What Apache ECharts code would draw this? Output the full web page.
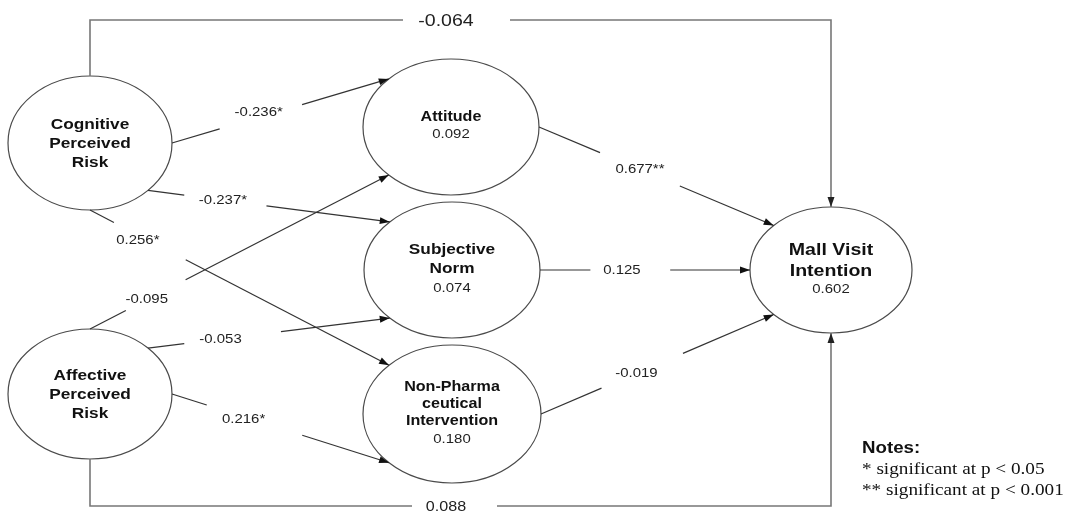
<!DOCTYPE html>
<html>
<head>
<meta charset="utf-8">
<title>Path model</title>
<script src="https://cdn.jsdelivr.net/npm/echarts@6/dist/echarts.min.js"></script>
<style>
html, body { margin: 0; padding: 0; background: #fff; }
#chart { width: 1071px; height: 515px; }
</style>
</head>
<body>
<div id="chart"></div>
<script>
// constructs and explained variance
let nodeNames = ['Cognitive\nPerceived\nRisk', 'Affective\nPerceived\nRisk', 'Attitude', 'Subjective\nNorm', 'Non-Pharma\nceutical\nIntervention', 'Mall Visit\nIntention'];
let nodeValues = ['', '', '0.092', '0.074', '0.180', '0.602'];

// paths between constructs
let pathFrom = [0, 0, 0, 1, 1, 1, 2, 3, 4];
let pathTo = [2, 3, 4, 2, 3, 4, 5, 5, 5];
let pathCoef = ['-0.236*', '-0.237*', '0.256*', '-0.095', '-0.053', '0.216*', '0.677**', '0.125', '-0.019'];

// direct effects on mall visit intention
let directFrom = [0, 1];
let directCoef = ['-0.064', '0.088'];

let notesTitle = 'Notes:';
let notesLines = ['* significant at p < 0.05', '** significant at p < 0.001'];

// layout (pixel space of the hidden axes)
let nodeLayout = [
    { cx: 90, cy: 143, rx: 82, ry: 67, nameY: 144, size: 15, lh: 19 },
    { cx: 90, cy: 394, rx: 82, ry: 65, nameY: 395, size: 15, lh: 19 },
    { cx: 451, cy: 127, rx: 88, ry: 68, nameY: 117, size: 14, lh: 16, valueY: 134 },
    { cx: 452, cy: 270, rx: 88, ry: 68, nameY: 259.5, size: 15, lh: 19, valueY: 288 },
    { cx: 452, cy: 414, rx: 89, ry: 69, nameY: 404, size: 14, lh: 17, valueY: 439 },
    { cx: 831, cy: 270, rx: 81, ry: 63, nameY: 260.5, size: 17, lh: 21, valueY: 289 }
];
let pathAnchor = [[0, 225], [45, 225], [90, 225], [270, 135], [315, 135], [0, 135], [0, 225], [0, 180], [0, 135]];
let pathGap = [[0.22, 0.60], [0.15, 0.49], [0.08, 0.32], [0.12, 0.32], [0.15, 0.55], [0.16, 0.60], [0.26, 0.60], [0.24, 0.62], [0.26, 0.61]];
let pathLabelT = [0.40, 0.31, 0.16, 0.19, 0.30, 0.33, 0.43, 0.39, 0.41];
let pathLabelDy = [-5, 0, 6, 0, 0, 3, 0, 0, 0];
let directLayout = [
    { startDeg: 270, endDeg: 270, y: 20, gap: [403, 510], labelX: 446, size: 17 },
    { startDeg: 90, endDeg: 90, y: 506, gap: [412, 497], labelX: 446, size: 14 }
];

let sansFont = '"Liberation Sans", Arial, sans-serif';
let serifFont = '"Liberation Serif", "Times New Roman", serif';
let stretch = 1.15; // source picture is a bit wide
let lineColor = '#333';
let ellipseColor = '#4a4a4a';
let directColor = '#777';

function ellipsePoint(n, deg) {
    let a = deg * Math.PI / 180;
    return [n.cx + n.rx * Math.cos(a), n.cy + n.ry * Math.sin(a)];
}

function lerp(a, b, t) {
    return [a[0] + (b[0] - a[0]) * t, a[1] + (b[1] - a[1]) * t];
}

function arrowHead(from, to, color) {
    let dx = to[0] - from[0];
    let dy = to[1] - from[1];
    let len = Math.sqrt(dx * dx + dy * dy);
    let ux = dx / len;
    let uy = dy / len;
    let l = 10;
    let w = 3.5;
    return {
        type: 'polygon',
        shape: {
            points: [
                to,
                [to[0] - ux * l - uy * w, to[1] - uy * l + ux * w],
                [to[0] - ux * l + uy * w, to[1] - uy * l - ux * w]
            ]
        },
        style: { fill: color }
    };
}

function textEl(x, y, text, size, weight, color) {
    return {
        type: 'text',
        x: x,
        y: y,
        scaleX: stretch,
        style: {
            text: text,
            fontFamily: sansFont,
            fontSize: size,
            fontWeight: weight,
            fill: color,
            align: 'center',
            verticalAlign: 'middle'
        }
    };
}

let chart = echarts.init(document.getElementById('chart'));

let option = {
    animation: false,
    grid: { left: 0, right: 0, top: 0, bottom: 0 },
    xAxis: { type: 'value', min: 0, max: 1071, show: false },
    yAxis: { type: 'value', min: 0, max: 515, inverse: true, show: false },
    series: [
        {
            // constructs
            type: 'custom',
            silent: true,
            data: nodeLayout.map(n => [n.cx, n.cy]),
            renderItem(params, api) {
                let i = params.dataIndex;
                let n = nodeLayout[i];
                let c = api.coord([api.value(0), api.value(1)]);
                let children = [{
                    type: 'ellipse',
                    shape: { cx: c[0], cy: c[1], rx: n.rx, ry: n.ry },
                    style: { fill: '#fff', stroke: ellipseColor, lineWidth: 1.2 }
                }];
                let name = textEl(c[0], api.coord([0, n.nameY])[1], nodeNames[i], n.size, 'bold', '#111');
                name.style.lineHeight = n.lh;
                children.push(name);
                if (nodeValues[i]) {
                    children.push(textEl(c[0], api.coord([0, n.valueY])[1], nodeValues[i], 13, 'normal', '#222'));
                }
                return { type: 'group', children: children };
            }
        },
        {
            // structural paths
            type: 'custom',
            silent: true,
            data: pathCoef.map((c, i) => [i, i]),
            renderItem(params, api) {
                let i = params.dataIndex;
                let s = api.coord(ellipsePoint(nodeLayout[pathFrom[i]], pathAnchor[i][0]));
                let e = api.coord(ellipsePoint(nodeLayout[pathTo[i]], pathAnchor[i][1]));
                let g1 = lerp(s, e, pathGap[i][0]);
                let g2 = lerp(s, e, pathGap[i][1]);
                let lp = lerp(s, e, pathLabelT[i]);
                let lineStyle = { stroke: lineColor, lineWidth: 1.2 };
                return {
                    type: 'group',
                    children: [
                        { type: 'line', shape: { x1: s[0], y1: s[1], x2: g1[0], y2: g1[1] }, style: lineStyle },
                        { type: 'line', shape: { x1: g2[0], y1: g2[1], x2: e[0], y2: e[1] }, style: lineStyle },
                        arrowHead(s, e, '#111'),
                        textEl(lp[0], lp[1] + pathLabelDy[i], pathCoef[i], 13, 'normal', '#222')
                    ]
                };
            }
        },
        {
            // direct effects, routed round the outside
            type: 'custom',
            silent: true,
            data: directCoef.map((c, i) => [i, i]),
            renderItem(params, api) {
                let i = params.dataIndex;
                let d = directLayout[i];
                let s = api.coord(ellipsePoint(nodeLayout[directFrom[i]], d.startDeg));
                let target = nodeLayout[5];
                let e = api.coord(ellipsePoint(target, d.endDeg));
                let y = api.coord([0, d.y])[1];
                let gx1 = api.coord([d.gap[0], 0])[0];
                let gx2 = api.coord([d.gap[1], 0])[0];
                let lineStyle = { stroke: directColor, lineWidth: 1.6, fill: null };
                return {
                    type: 'group',
                    children: [
                        { type: 'polyline', shape: { points: [s, [s[0], y], [gx1, y]] }, style: lineStyle },
                        { type: 'polyline', shape: { points: [[gx2, y], [e[0], y], e] }, style: lineStyle },
                        arrowHead([e[0], y], e, '#222'),
                        textEl(api.coord([d.labelX, 0])[0], y + 1, directCoef[i], d.size, 'normal', '#222')
                    ]
                };
            }
        }
    ],
    graphic: [
        {
            type: 'text',
            left: 862,
            top: 440,
            scaleX: 1.1,
            style: { text: notesTitle, font: 'bold 17px ' + sansFont, fill: '#111' }
        },
        {
            type: 'text',
            left: 862,
            top: 462,
            scaleX: 1.2,
            style: { text: notesLines[0], font: '16px ' + serifFont, fill: '#111' }
        },
        {
            type: 'text',
            left: 862,
            top: 483,
            scaleX: 1.2,
            style: { text: notesLines[1], font: '16px ' + serifFont, fill: '#111' }
        }
    ]
};

chart.setOption(option);
</script>
</body>
</html>
